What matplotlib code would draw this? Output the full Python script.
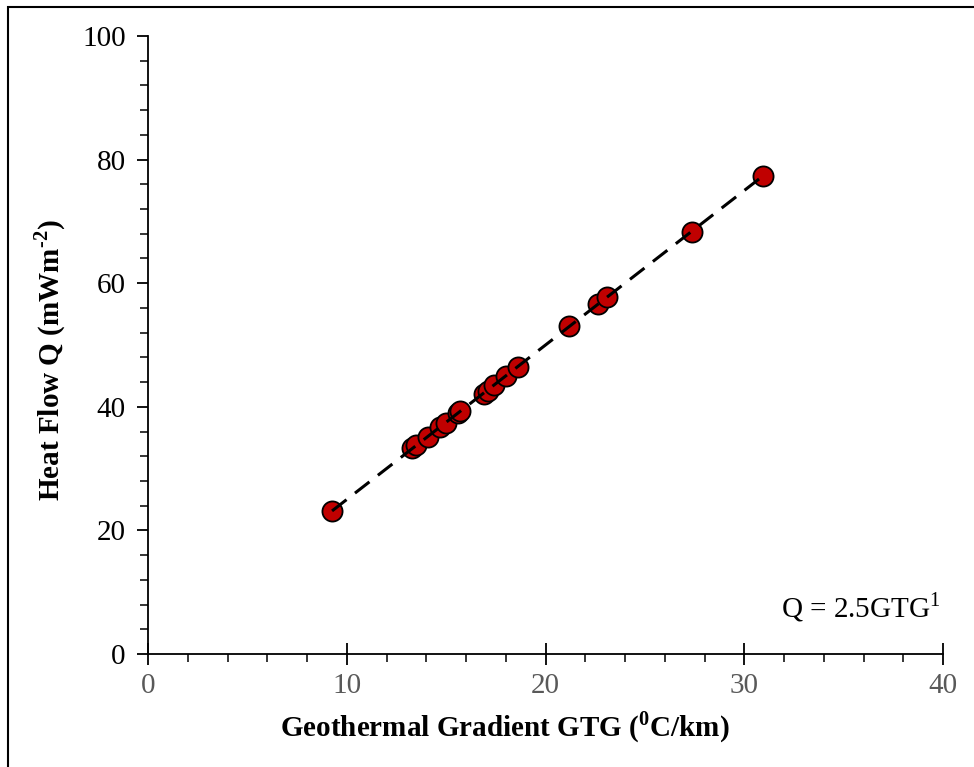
import numpy as np
import matplotlib
matplotlib.use("Agg")
import matplotlib.pyplot as plt
from matplotlib.patches import Rectangle
from matplotlib.ticker import MultipleLocator

# geothermal gradient (degC/km) and heat flow (mW/m2)
gtg = [9.26, 13.28, 13.5, 14.1, 14.7, 15.0, 15.6, 15.7, 16.9, 17.1, 17.4,
       18.0, 18.6, 21.2, 22.65, 23.1, 27.37, 30.95]
q = [23.2, 33.3, 33.8, 35.1, 36.7, 37.4, 39.0, 39.3, 42.1, 42.6, 43.5,
     45.0, 46.4, 53.0, 56.6, 57.7, 68.3, 77.3]

xticks = [0, 10, 20, 30, 40]
yticks = [0, 20, 40, 60, 80, 100]

plt.rcParams['font.family'] = ['Liberation Serif', 'DejaVu Serif']
plt.rcParams['mathtext.fontset'] = 'custom'
plt.rcParams['mathtext.rm'] = 'Liberation Serif'
plt.rcParams['mathtext.bf'] = 'Liberation Serif:bold'

fig = plt.figure(figsize=(9.74, 7.67), dpi=100)
ax = fig.add_axes([148/974, 1 - 654/767, (943 - 148)/974, (654 - 36)/767])

# trend line Q = 2.5 GTG over the data range
xs = np.array([min(gtg), max(gtg)])
ax.plot(xs, 2.5*xs, linestyle=(0, (6, 3.5)), color='black', lw=2.2, zorder=3)
ax.plot(gtg, q, 'o', ms=14.5, mfc='#C00000', mec='black', mew=1.3, zorder=2)

ax.set_xlim(0, 40)
ax.set_ylim(0, 100)
ax.set_xticks(xticks)
ax.set_yticks(yticks)
ax.xaxis.set_minor_locator(MultipleLocator(2))
ax.yaxis.set_minor_locator(MultipleLocator(4))

for s in ['top', 'right']:
    ax.spines[s].set_visible(False)
for s in ['left', 'bottom']:
    ax.spines[s].set_linewidth(1.3)

ax.tick_params(axis='y', which='major', direction='out', length=8, width=1.3,
               labelsize=21, labelcolor='black', pad=8)
ax.tick_params(axis='y', which='minor', direction='out', length=6, width=1.1)
ax.tick_params(axis='x', which='major', direction='inout', length=16, width=1.3,
               labelsize=21, labelcolor='#595959', pad=6)
ax.tick_params(axis='x', which='minor', direction='out', length=6, width=1.1)

ax.set_xlabel(r'Geothermal Gradient GTG ($^{\mathbf{0}}$C/km)', fontsize=21,
              fontweight='bold', va='center')
ax.set_ylabel(r'Heat Flow Q (mWm$^{\mathbf{\text{-}2}}$)', fontsize=21,
              fontweight='bold', va='center')
ax.xaxis.set_label_coords(0.449, -0.118)
ax.yaxis.set_label_coords(-0.123, 0.476)

ax.text(39.9, 7.6, 'Q = 2.5GTG$^{1}$', fontsize=21, ha='right', va='center')

# frame around the picture (right and bottom edges fall outside)
fig.patches.append(Rectangle((8/974, -0.05), 1.1, 1 - 7/767 + 0.05,
                             transform=fig.transFigure, fill=False,
                             lw=1.5, ec='black'))

fig.savefig('out.png', dpi=100)
